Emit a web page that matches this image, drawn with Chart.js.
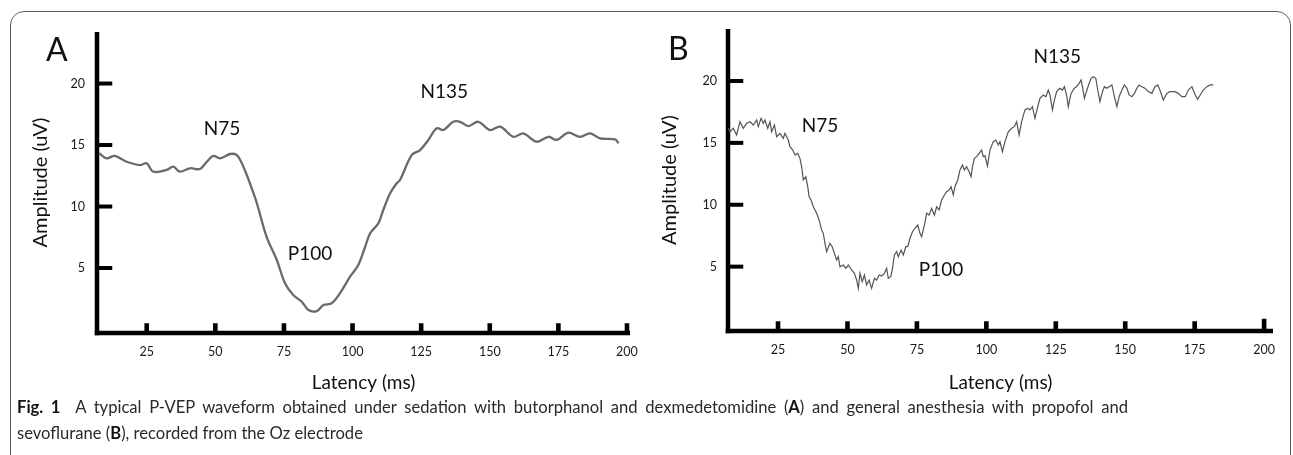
<!DOCTYPE html>
<html>
<head>
<meta charset="utf-8">
<script src="https://cdn.jsdelivr.net/npm/chart.js@4.4.1/dist/chart.umd.min.js"></script>
<style>
html,body{margin:0;padding:0;background:#fff;}
#wrap{position:relative;width:1293px;height:455px;overflow:hidden;background:#fff;}
#frame{position:absolute;left:10px;top:10.5px;width:1281px;height:490px;border:1.3px solid #5c5c5c;border-radius:14px;box-sizing:border-box;}
canvas{position:absolute;top:0;}
#cA{left:0;}
#cB{left:646px;}
.panel{position:absolute;font-family:Lato,sans-serif;font-size:32px;line-height:32px;color:#111;}
#caption{position:absolute;left:17px;top:394px;font-family:Lato,sans-serif;font-size:16.6px;line-height:26px;color:#2a2a2a;white-space:nowrap;}
#caption .l1{width:1111px;text-align:justify;text-align-last:justify;white-space:normal;}
#caption b{color:#111;}
</style>
</head>
<body>
<div id="wrap">
  <div id="frame"></div>
  <canvas id="cA" width="660" height="400"></canvas>
  <canvas id="cB" width="647" height="400"></canvas>
  <div class="panel" style="left:46px;top:33px;">A</div>
  <div class="panel" style="left:668px;top:32px;">B</div>
  <div id="caption"><div class="l1"><b>Fig. 1</b>&nbsp; A typical P-VEP waveform obtained under sedation with butorphanol and dexmedetomidine (<b>A</b>) and general anesthesia with propofol and</div><div>sevoflurane (<b>B</b>), recorded from the Oz electrode</div></div>
</div>
<script>
// ---- data ----
const xTickValues = [25, 50, 75, 100, 125, 150, 175, 200];
const yTickValues = [5, 10, 15, 20];

// Panel A: sedation with butorphanol and dexmedetomidine
const latencyA = [7.7,10.4,13.4,17.7,22.6,25.0,27.4,32.3,34.7,37.1,40.8,44.4,46.9,49.3,51.7,55.4,57.8,59.5,61.4,63.4,65.1,68.7,72.4,75.4,78.4,81.5,83.9,87.0,89.4,92.4,95.4,99.1,102.1,104.6,106.4,109.4,111.2,113.7,116.1,117.3,121.6,124.6,127.6,130.7,133.1,136.7,139.2,142.2,145.8,150.1,153.8,158.6,162.2,167.1,171.4,174.4,178.6,182.9,186.6,190.2,195.7,196.9];
const amplitudeA = [14.33,13.92,14.11,13.64,13.37,13.51,12.83,12.97,13.24,12.83,13.11,13.05,13.64,14.11,13.92,14.27,14.19,13.6,12.6,11.4,10.3,7.54,5.65,3.76,2.80,2.26,1.59,1.50,1.99,2.13,2.94,4.29,5.24,6.73,7.82,8.63,9.72,11.07,11.89,12.15,14.19,14.59,15.41,16.36,16.22,16.89,16.89,16.54,16.89,16.22,16.49,15.67,15.95,15.27,15.67,15.41,16.0,15.67,15.95,15.54,15.46,15.14];

// Panel B: general anesthesia with propofol and sevoflurane
const latencyB = [7.0,7.7,8.9,10.1,11.3,12.5,13.7,14.9,16.1,17.3,17.9,18.9,19.7,20.3,21.3,22.1,22.7,23.7,24.5,25.7,26.9,27.5,28.7,29.3,30.3,31.1,32.1,32.9,33.5,34.1,35.0,35.7,36.2,36.9,37.7,38.9,39.8,40.7,41.3,41.9,42.5,43.7,44.5,45.3,46.1,46.7,47.3,48.5,49.4,50.3,51.5,52.5,53.3,53.9,54.5,55.3,56.1,56.9,57.8,58.7,59.7,60.5,61.4,62.3,63.3,64.1,64.7,65.6,66.2,66.9,67.7,68.3,69.3,70.1,71.0,71.7,72.5,73.4,74.3,75.3,76.1,76.7,77.7,78.5,79.4,80.3,81.3,82.1,83.0,83.9,84.9,85.7,86.6,87.3,88.1,88.7,89.7,90.5,91.4,92.1,92.9,93.8,94.5,95.0,95.7,96.5,97.4,98.3,98.9,99.5,100.4,101.3,102.5,103.4,104.3,104.9,105.8,106.7,107.9,109.1,110.1,110.9,111.8,112.7,113.9,114.9,115.7,116.6,117.5,118.5,119.3,120.5,121.4,122.3,122.9,123.8,124.5,125.3,126.5,127.4,128.1,129.0,129.5,130.5,131.7,132.5,133.4,134.1,134.6,135.3,136.2,137.0,137.7,138.5,139.4,140.1,140.9,141.8,142.5,143.4,144.2,145.2,146.1,147.0,147.8,148.8,149.7,150.6,151.4,152.4,153.3,154.2,155.0,156.0,157.1,158.3,159.6,160.7,161.7,162.5,163.7,165.0,166.1,167.9,169.1,170.4,171.6,172.7,174.0,175.2,176.1,177.0,178.1,179.4,180.6,181.7];
const amplitudeB = [16.2,15.90,16.18,15.64,16.71,16.18,16.58,16.71,16.44,16.85,16.31,16.98,16.58,16.85,16.18,16.71,15.90,16.44,15.50,15.77,15.37,15.77,15.23,14.69,14.42,14.02,14.15,13.75,13.08,12.0,12.27,11.46,10.65,10.38,9.84,9.31,8.77,7.96,7.69,6.88,6.21,6.88,6.61,6.08,5.54,5.80,4.99,5.13,4.86,5.13,4.73,4.46,3.92,3.25,4.46,3.78,4.32,3.52,3.92,3.25,4.06,3.92,4.32,4.24,4.46,4.86,4.06,4.19,4.86,5.94,6.21,5.80,6.34,5.94,6.61,6.61,7.29,7.82,8.10,8.36,7.69,7.42,8.36,9.31,9.17,9.71,9.17,9.84,9.58,10.38,10.79,11.06,11.19,11.46,10.79,11.46,12.0,12.81,13.21,12.81,13.08,12.67,12.27,13.08,13.75,13.89,14.15,14.42,13.89,13.95,13.13,14.42,15.10,15.23,14.83,15.10,14.29,15.10,15.90,16.18,16.31,16.71,15.64,16.71,17.66,17.79,17.66,17.92,16.98,17.92,18.60,18.87,18.73,19.27,18.87,17.66,18.46,19.14,19.41,19.27,19.54,18.73,17.92,19.0,19.41,19.54,19.81,20.08,19.54,18.60,19.27,19.81,20.22,20.35,20.22,19.27,18.33,19.14,19.54,19.41,19.54,19.68,18.73,17.92,18.73,19.27,19.68,19.41,18.87,18.73,19.0,19.41,19.68,19.54,19.41,19.14,19.0,19.54,19.68,19.27,18.46,19.0,19.14,19.14,19.0,18.73,18.73,19.27,19.54,18.87,18.52,18.87,19.27,19.54,19.68,19.68];

// peak annotations (text anchored at data coordinates)
const peakNames = ['N75', 'P100', 'N135'];
const peakLatA = [52.4, 84.5, 133.4];
const peakAmpA = [16.3, 6.14, 19.3];
const peakLatB = [40.1, 83.7, 125.5];
const peakAmpB = [16.36, 4.73, 21.94];

const FONT = 'Lato, sans-serif';

const vepAxes = {
  id: 'vepAxes',
  beforeDatasetsDraw(chart, args, o) {
    const {ctx, chartArea: ca, scales: {x, y}} = chart;
    const aw = o.axisWidth;
    ctx.save();
    ctx.fillStyle = '#000';
    ctx.fillRect(ca.left - aw / 2, ca.top, aw, ca.bottom - ca.top + aw / 2);
    ctx.fillRect(ca.left - aw / 2, ca.bottom - aw / 2, ca.right - ca.left + aw / 2, aw);
    y.ticks.forEach(t => {
      const py = y.getPixelForValue(t.value);
      ctx.fillRect(ca.left, py - 2, aw / 2 + o.yTickLen, 4);
    });
    x.ticks.forEach((t, i) => {
      const px = x.getPixelForValue(t.value);
      const len = (i === x.ticks.length - 1) ? o.lastXTickLen : o.xTickLen;
      ctx.fillRect(px - 2.3, ca.bottom - aw / 2 - len, 4.6, len + 1);
    });
    ctx.restore();
  },
  afterDraw(chart, args, o) {
    const {ctx, scales: {x, y}} = chart;
    ctx.save();
    ctx.fillStyle = '#111';
    ctx.font = '19px ' + FONT;
    ctx.textAlign = 'center';
    ctx.textBaseline = 'middle';
    o.names.forEach((n, i) => ctx.fillText(n, x.getPixelForValue(o.lat[i]), y.getPixelForValue(o.amp[i])));
    ctx.restore();
  }
};

function makeChart(id, lat, amp, cfg) {
  return new Chart(document.getElementById(id), {
    type: 'line',
    data: {
      datasets: [{
        data: lat.map((v, i) => ({x: v, y: amp[i]})),
        borderColor: cfg.color,
        borderWidth: cfg.lineWidth,
        tension: cfg.tension,
        pointRadius: 0,
        fill: false
      }]
    },
    options: {
      responsive: false,
      animation: false,
      events: [],
      layout: {padding: {left: 0, top: cfg.top, right: cfg.right, bottom: 0}},
      plugins: {
        legend: {display: false},
        tooltip: {enabled: false},
        vepAxes: {axisWidth: 4.5, yTickLen: 13, xTickLen: 7.5, lastXTickLen: cfg.lastTick,
                  names: peakNames, lat: cfg.peakLat, amp: cfg.peakAmp}
      },
      scales: {
        x: {
          type: 'linear', min: cfg.xmin, max: cfg.xmax,
          afterBuildTicks: s => { s.ticks = xTickValues.map(v => ({value: v})); },
          afterFit: s => { s.height = cfg.xAxisH; },
          grid: {display: false, drawTicks: false},
          border: {display: false},
          ticks: {padding: 11, color: '#1a1a1a', font: {family: FONT, size: 12.5}, maxRotation: 0, autoSkip: false},
          title: {display: true, text: 'Latency (ms)', color: '#111', font: {family: FONT, size: 19}, padding: {top: 0, bottom: 6}}
        },
        y: {
          type: 'linear', min: cfg.ymin, max: cfg.ymax,
          afterBuildTicks: s => { s.ticks = yTickValues.map(v => ({value: v})); },
          afterFit: s => { s.width = cfg.yAxisW; },
          grid: {display: false, drawTicks: false},
          border: {display: false},
          ticks: {padding: cfg.yPad, color: '#1a1a1a', font: {family: FONT, size: 12.5}},
          title: {display: true, text: 'Amplitude (uV)', color: '#111', font: {family: FONT, size: 20}, padding: {top: cfg.yTitlePad, bottom: 0}}
        }
      }
    },
    plugins: [vepAxes]
  });
}

makeChart('cA', latencyA, amplitudeA, {
  color: '#6a6a6a', lineWidth: 2.3, tension: 0.35,
  top: 32, right: 30, xmin: 6.89, xmax: 201.1, ymin: -0.285, ymax: 24.19,
  xAxisH: 67, yAxisW: 97, yPad: 12, yTitlePad: 29, lastTick: 7.5,
  peakLat: peakLatA, peakAmp: peakAmpA
});
makeChart('cB', latencyB, amplitudeB, {
  color: '#555555', lineWidth: 1.2, tension: 0,
  top: 29, right: 20, xmin: 6.99, xmax: 203.2, ymin: -0.2, ymax: 24.2,
  xAxisH: 69, yAxisW: 82, yPad: 11, yTitlePad: 12, lastTick: 10,
  peakLat: peakLatB, peakAmp: peakAmpB
});
</script>
</body>
</html>
